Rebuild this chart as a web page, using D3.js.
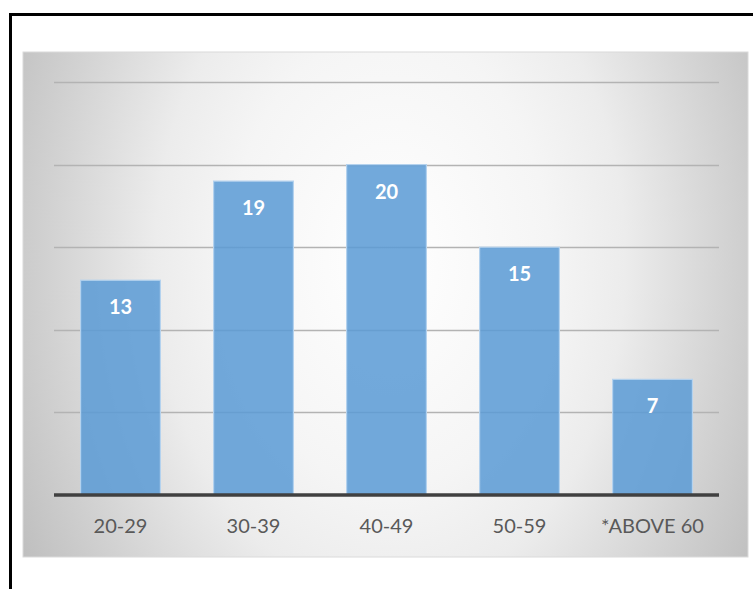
<!DOCTYPE html>
<html>
<head>
<meta charset="utf-8">
<script src="https://cdn.jsdelivr.net/npm/d3@7"></script>
<style>
  html, body { margin: 0; padding: 0; background: #fff; }
  svg { display: block; }
</style>
</head>
<body>
<script>
// Age groups and respondent counts
const categories = ["20-29", "30-39", "40-49", "50-59", "*ABOVE 60"];
const counts = [13, 19, 20, 15, 7];
const gridTicks = [5, 10, 15, 20, 25];

const W = 753, H = 589;
const svg = d3.select("body").append("svg").attr("width", W).attr("height", H);

// Background gradient of the chart area
const defs = svg.append("defs");
const grad = defs.append("radialGradient")
  .attr("id", "bg")
  .attr("gradientUnits", "userSpaceOnUse")
  .attr("cx", 390).attr("cy", 260).attr("r", 420)
  .attr("gradientTransform", "translate(390,260) scale(1,1.43) translate(-390,-260)");
[[0, "#ffffff"], [0.38, "#f5f5f5"], [0.56, "#ececec"], [0.8, "#d3d3d3"], [1, "#bfbfbf"]]
  .forEach(([o, c]) => grad.append("stop").attr("offset", o).attr("stop-color", c));

// Outer frame
svg.append("rect")
  .attr("x", 10.5).attr("y", 14.5).attr("width", 900).attr("height", 800)
  .attr("fill", "none").attr("stroke", "#000").attr("stroke-width", 3);

// Chart area
svg.append("rect")
  .attr("x", 23).attr("y", 52).attr("width", 725).attr("height", 505)
  .attr("fill", "url(#bg)").attr("stroke", "#dadada").attr("stroke-width", 1);

const x = d3.scaleBand().domain(categories).range([54, 719])
  .paddingInner(0.4).paddingOuter(0.2);
const y = d3.scaleLinear().domain([0, 25]).range([495, 82]);

// Horizontal gridlines
svg.append("g").selectAll("line").data(gridTicks).join("line")
  .attr("x1", 54).attr("x2", 719)
  .attr("y1", d => Math.round(y(d)) + 0.5).attr("y2", d => Math.round(y(d)) + 0.5)
  .attr("stroke", "#b3b3b3").attr("stroke-width", 1.3);

// Bars
svg.append("g").selectAll("rect").data(counts).join("rect")
  .attr("x", (d, i) => x(categories[i]))
  .attr("y", d => y(d))
  .attr("width", x.bandwidth())
  .attr("height", d => y(0) - y(d))
  .attr("fill", "#5b9bd5").attr("fill-opacity", 0.86)
  .attr("stroke", "#b4d2ee").attr("stroke-width", 1.2);

// Value labels
svg.append("g").selectAll("text").data(counts).join("text")
  .attr("x", (d, i) => x(categories[i]) + x.bandwidth() / 2)
  .attr("y", d => y(d) + 34)
  .attr("text-anchor", "middle")
  .attr("font-family", "Lato, 'Open Sans', sans-serif")
  .attr("font-weight", "bold")
  .attr("font-size", 20)
  .attr("fill", "#ffffff")
  .text(d => d);

// Baseline axis
const xAxis = d3.axisBottom(x).tickSize(0).tickPadding(0);
const axisG = svg.append("g").attr("transform", `translate(0,${y(0)})`).call(xAxis);
axisG.select(".domain").remove();
axisG.append("line")
  .attr("x1", 54).attr("x2", 719).attr("y1", 0).attr("y2", 0)
  .attr("stroke", "#404040").attr("stroke-width", 3.5);
axisG.selectAll(".tick text")
  .attr("y", 38).attr("dy", null)
  .attr("font-family", "Lato, 'Open Sans', sans-serif")
  .attr("font-size", 20)
  .attr("fill", "#595959");
</script>
</body>
</html>
